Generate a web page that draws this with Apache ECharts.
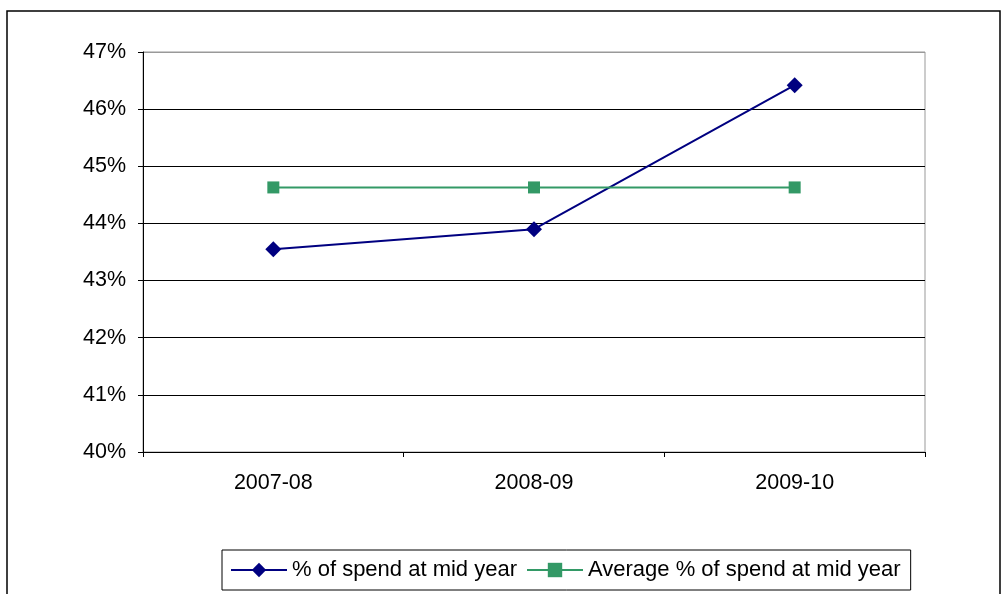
<!DOCTYPE html>
<html>
<head>
<meta charset="utf-8">
<script src="https://cdn.jsdelivr.net/npm/echarts@6/dist/echarts.min.js"></script>
<style>
  html, body { margin: 0; padding: 0; background: #fff; }
  #chart { width: 1003px; height: 594px; }
</style>
</head>
<body>
<div id="chart"></div>
<script>
// data
const years = ['2007-08', '2008-09', '2009-10']
const spendMidYear = [43.55, 43.90, 46.42]
const avgSpendMidYear = [44.63, 44.63, 44.63]
const seriesNames = ['% of spend at mid year', 'Average % of spend at mid year']

const FONT = '"Liberation Sans", Arial, sans-serif'

const chart = echarts.init(document.getElementById('chart'))

const option = {
  backgroundColor: '#fff',
  animation: false,
  textStyle: { fontFamily: FONT },
  // outer chart-area border
  graphic: [
    {
      type: 'rect',
      shape: { x: 7, y: 11, width: 993, height: 620 },
      style: { fill: 'none', stroke: '#000', lineWidth: 1.5 },
      silent: true
    }
  ],
  grid: {
    left: 143,
    top: 52,
    right: 78,
    bottom: 142,
    show: true,
    borderColor: '#999',
    borderWidth: 1
  },
  legend: {
    left: 222,
    top: 550,
    padding: [9, 10, 9, 8],
    itemGap: 9,
    itemWidth: 56,
    itemHeight: 18,
    borderColor: '#000',
    borderWidth: 1,
    backgroundColor: '#fff',
    textStyle: { fontFamily: FONT, fontSize: 22, color: '#000' },
    data: seriesNames
  },
  xAxis: {
    type: 'category',
    data: years,
    boundaryGap: true,
    axisLine: { lineStyle: { color: '#000', width: 1 } },
    axisTick: { show: true, alignWithLabel: false, length: 5, lineStyle: { color: '#000' } },
    axisLabel: { fontFamily: FONT, fontSize: 21.5, color: '#000', margin: 20 },
    splitLine: { show: false }
  },
  yAxis: {
    type: 'value',
    min: 40,
    max: 47,
    interval: 1,
    axisLine: { show: true, lineStyle: { color: '#000', width: 1 } },
    axisTick: { show: true, length: 5, lineStyle: { color: '#000' } },
    axisLabel: {
      fontFamily: FONT,
      fontSize: 21.5,
      color: '#000',
      margin: 17,
      formatter: '{value}%'
    },
    splitLine: {
      show: true,
      lineStyle: {
        // top line belongs to the grey plot border
        color: ['#000', '#000', '#000', '#000', '#000', '#000', '#000', '#999'],
        width: 1
      }
    }
  },
  series: [
    {
      name: seriesNames[0],
      type: 'line',
      data: spendMidYear,
      symbol: 'diamond',
      symbolSize: 16,
      lineStyle: { color: '#000080', width: 2 },
      itemStyle: { color: '#000080' }
    },
    {
      name: seriesNames[1],
      type: 'line',
      data: avgSpendMidYear,
      symbol: 'rect',
      symbolSize: 12,
      lineStyle: { color: '#339966', width: 2 },
      itemStyle: { color: '#339966' }
    }
  ]
}

chart.setOption(option)
</script>
</body>
</html>
